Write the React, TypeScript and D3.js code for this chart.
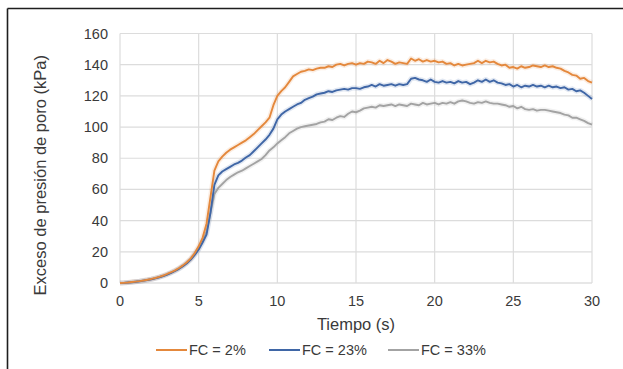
import React from "react";
import * as d3 from "d3";

// Sampling times (s), every 0.25 s from 0 to 30
const times: number[] = d3.range(0, 30.0001, 0.25);

// Excess pore pressure (kPa) for each fines content
const fc2: number[] = [
  0, 0.1, 0.3, 0.6,
  0.9, 1.2, 1.6, 2.1,
  2.6, 3.2, 3.9, 4.8,
  5.8, 6.9, 8.1, 9.6,
  11.3, 13.3, 15.8, 19.2,
  23.5, 29, 38, 55,
  72, 78, 81, 83.5,
  85.5, 87, 88.5, 90,
  91.5, 93.5, 95.5, 98,
  100.5, 103, 106, 114,
  120, 123, 125.5, 129,
  132.5, 134, 135.5, 136,
  137, 136.5, 137.5, 138,
  138, 139, 138.5, 140,
  140.5, 139.5, 140.5, 141,
  140, 141, 140.5, 142,
  141.5, 140.5, 142.5, 141,
  143, 142, 140.5, 141.5,
  141, 140.5, 144, 142.5,
  143.5, 142, 143, 142,
  142.5, 141.5, 142, 140.5,
  141, 139.5, 140.5, 139.5,
  140, 140.5, 141, 142.5,
  141, 142.5, 141.5, 142,
  140.5, 139.5, 140, 138,
  138.5, 137.5, 139, 138,
  138.5, 139.5, 139, 138.5,
  139.5, 138.5, 139, 138,
  137.5, 136, 135, 133.5,
  133, 131, 131.5, 129.5,
  128.5,
];

const fc23: number[] = [
  0, 0.1, 0.3, 0.5,
  0.8, 1.1, 1.5, 1.9,
  2.4, 3, 3.7, 4.5,
  5.4, 6.5, 7.7, 9.1,
  10.8, 12.7, 15, 18,
  21.5, 26, 31, 45,
  63, 69, 71.5, 73,
  74.5, 76, 77, 78.5,
  80.5, 82, 84.5, 87,
  89.5, 92, 95, 99,
  105, 108, 110, 111.5,
  113, 114.5, 115.5, 117.5,
  118.5, 119.5, 121, 121.5,
  122, 123, 122.5, 123.5,
  124, 124.5, 124, 125,
  125, 124.5, 125.5, 126,
  127, 126, 127.5, 126.5,
  127, 127.5, 126.5, 127.5,
  127, 127.5, 131, 131.5,
  130.5, 130, 129, 130.5,
  129, 128.5, 129.5, 128.5,
  129, 128, 129.5, 128.5,
  129, 127.5, 128.5, 130,
  129, 130.5, 129, 130,
  128.5, 128, 127, 127.5,
  126, 127, 125.5, 126.5,
  126, 127, 126, 126.5,
  125.5, 126.5, 125.5, 126,
  125, 125.5, 124, 124.5,
  123, 123.5, 122, 120,
  118,
];

const fc33: number[] = [
  0, 0.1, 0.3, 0.6,
  0.9, 1.2, 1.6, 2.0,
  2.5, 3.1, 3.8, 4.6,
  5.6, 6.7, 7.9, 9.3,
  11, 13, 15.3, 18.5,
  22, 27, 33, 45,
  57, 61, 63.5, 66,
  68, 69.5, 71, 72,
  73.5, 75, 76.5, 78,
  79.5, 82, 85, 87,
  89.5, 91.5, 93.5, 96,
  97.5, 99, 100, 100.5,
  101, 101.5, 102, 103,
  103.5, 105, 104.5, 106,
  107, 106.5, 108.5, 110,
  109.5, 110.5, 112, 112.5,
  113, 112.5, 114, 113.5,
  114, 114.5, 113.5, 114.5,
  114, 113.5, 115, 114.5,
  114, 115.5, 114.5, 115,
  115.5, 114.5, 115.5, 115,
  116, 115, 116.5, 117,
  116.5, 115.5, 115, 116,
  115.5, 116.5, 115.5, 115,
  115, 114.5, 114, 113,
  113.5, 112, 113, 111.5,
  111, 111.5, 110.5, 111,
  111, 110.5, 110, 109.5,
  109, 108, 107.5, 106,
  106, 105, 104, 102.5,
  101.5,
];

const seriesNames: string[] = ["FC = 2%", "FC = 23%", "FC = 33%"];
const seriesColors: string[] = ["#E4883C", "#3F66A6", "#A3A3A3"];
const seriesValues: number[][] = [fc2, fc23, fc33];

const xTicks: number[] = [0, 5, 10, 15, 20, 25, 30];
const yTicks: number[] = [0, 20, 40, 60, 80, 100, 120, 140, 160];

const xTitle = "Tiempo (s)";
const yTitle = "Exceso de presión de poro (kPa)";

const W = 623;
const H = 369;
const plot = { left: 120, right: 592, top: 33.5, bottom: 283 };
const font = "'Liberation Sans', Arial, sans-serif";
const textColor = "#3a3a3a";

export default function App() {
  const x = d3.scaleLinear().domain([0, 30]).range([plot.left, plot.right]);
  const y = d3.scaleLinear().domain([0, 160]).range([plot.bottom, plot.top]);

  const line = d3
    .line<number>()
    .x((_, i) => x(times[i]))
    .y((v) => y(v))
    .curve(d3.curveLinear);

  const legendItems = [
    { x0: 156, x1: 187, tx: 189 },
    { x0: 269, x1: 300, tx: 302 },
    { x0: 388, x1: 419, tx: 421 },
  ];
  const legendY = 350;

  return (
    <svg
      width={W}
      height={H}
      style={{ position: "absolute", left: 0, top: 0, background: "#fff" }}
      fontFamily={font}
    >
      <rect x={0} y={0} width={W} height={H} fill="#fff" />

      {/* frame */}
      <line x1={7.5} y1={8.5} x2={W} y2={8.5} stroke="#1e1e1e" strokeWidth={1.6} />
      <line x1={7.5} y1={8.5} x2={7.5} y2={H} stroke="#1e1e1e" strokeWidth={1.6} />

      {/* gridlines */}
      {yTicks.map((t) => (
        <line
          key={"gy" + t}
          x1={plot.left}
          x2={plot.right}
          y1={y(t)}
          y2={y(t)}
          stroke={t === 0 ? "#cfcfcf" : "#dcdcdc"}
          strokeWidth={1.2}
        />
      ))}
      {xTicks.map((t) => (
        <line
          key={"gx" + t}
          x1={x(t)}
          x2={x(t)}
          y1={plot.top}
          y2={plot.bottom}
          stroke="#dcdcdc"
          strokeWidth={1.2}
        />
      ))}

      {/* tick labels */}
      {yTicks.map((t) => (
        <text
          key={"ty" + t}
          x={108}
          y={y(t)}
          textAnchor="end"
          dominantBaseline="central"
          fontSize={14.5}
          fill={textColor}
        >
          {t}
        </text>
      ))}
      {xTicks.map((t) => (
        <text
          key={"tx" + t}
          x={x(t)}
          y={301}
          textAnchor="middle"
          dominantBaseline="central"
          fontSize={14.5}
          fill={textColor}
        >
          {t}
        </text>
      ))}

      {/* axis titles */}
      <text
        x={(plot.left + plot.right) / 2}
        y={324}
        textAnchor="middle"
        dominantBaseline="central"
        fontSize={16.5}
        fill={textColor}
      >
        {xTitle}
      </text>
      <text
        transform={`translate(40, ${(plot.top + plot.bottom) / 2 + 17}) rotate(-90)`}
        textAnchor="middle"
        dominantBaseline="central"
        fontSize={16.5}
        fill={textColor}
      >
        {yTitle}
      </text>

      {/* series, halo first then the line */}
      {seriesValues.map((vals, k) => (
        <path
          key={"h" + k}
          d={line(vals) || ""}
          fill="none"
          stroke={seriesColors[k]}
          strokeOpacity={0.15}
          strokeWidth={5}
          strokeLinejoin="round"
        />
      ))}
      {seriesValues
        .map((vals, k) => ({ vals, k }))
        .reverse()
        .map(({ vals, k }) => (
          <path
            key={"s" + k}
            d={line(vals) || ""}
            fill="none"
            stroke={seriesColors[k]}
            strokeWidth={1.9}
            strokeLinejoin="round"
          />
        ))}

      {/* legend */}
      {legendItems.map((it, k) => (
        <g key={"lg" + k}>
          <line
            x1={it.x0}
            x2={it.x1}
            y1={legendY}
            y2={legendY}
            stroke={seriesColors[k]}
            strokeWidth={2}
          />
          <text
            x={it.tx}
            y={legendY}
            dominantBaseline="central"
            fontSize={14.5}
            fill={textColor}
          >
            {seriesNames[k]}
          </text>
        </g>
      ))}
    </svg>
  );
}
